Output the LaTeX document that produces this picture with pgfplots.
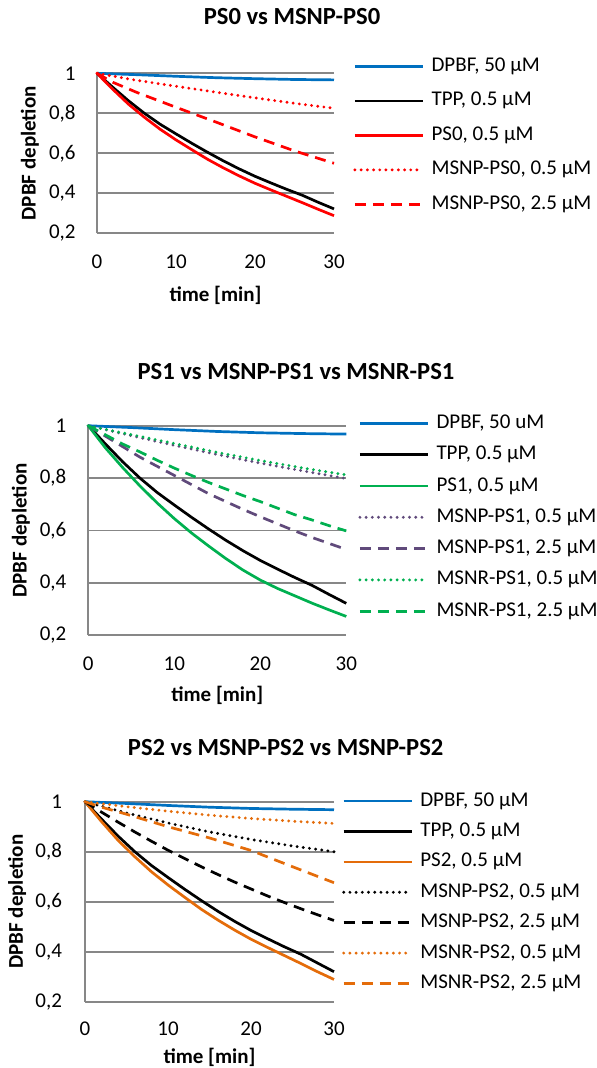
\documentclass[border=0pt]{standalone}
\usepackage{fontspec}
\setmainfont{Carlito}
\usepackage{pgfplots}
\pgfplotsset{compat=1.18}

\definecolor{xblue}{HTML}{0070C0}
\definecolor{xred}{HTML}{FF0000}
\definecolor{xgreen}{HTML}{00B050}
\definecolor{xpurple}{HTML}{604A7B}
\definecolor{xorange}{HTML}{E46C0A}
\definecolor{xgrid}{HTML}{878787}

\newcommand{\fs}{\fontsize{10.5}{12}\selectfont}
\newcommand{\ft}{\fontsize{12.3}{14}\selectfont\bfseries}

\pgfplotsset{
  panel/.style={
    scale only axis, xmin=0, xmax=30, ymin=0.2, ymax=1,
    xtick={0,10,20,30}, ytick={0.2,0.4,0.6,0.8,1},
    axis lines*=left, axis line style={xgrid, line width=0.85pt},
    major tick length=0pt,
    ymajorgrids, major grid style={xgrid, line width=0.85pt},
    /pgf/number format/.cd, use comma, fixed, precision=1, assume math mode=true, /pgfplots/.cd,
    tick label style={font=\fs},
    xticklabel style={anchor=center},
    yticklabel style={anchor=east, inner sep=0pt},
    label style={font=\fs\bfseries, anchor=center},
    title style={font=\ft, anchor=center},
    clip=false,
    legend style={draw=none, fill=none, font=\fs, anchor=north west, inner sep=0pt,
      column sep=3.5pt, nodes={inner sep=0pt, text height=7pt, text depth=2pt}, cells={anchor=west}},
    legend image code/.code={\draw[##1] (0pt,0pt) -- (34pt,0pt);},
    every axis plot/.append style={line width=1.35pt, line join=round},
  },
  sdot/.style={line cap=round, line width=1.6pt, dash pattern=on 0pt off 3.1pt},
  sdash/.style={dash pattern=on 5.5pt off 3.5pt},
}

\begin{document}
\begin{tikzpicture}
\useasboundingbox (0,0) rectangle (298pt,-534pt);

% ---- PS0
\begin{axis}[panel, at={(48.5pt,-116.65pt)}, anchor=south west,
  width=118.5pt, height=80pt,
  title={PS0 vs MSNP-PS0}, title style={at={(axis description cs:0.823,1.28)}},
  xlabel={time [min]}, xlabel style={at={(axis description cs:0.5,-0.386)}},
  ylabel={DPBF depletion}, ylabel style={at={(axis description cs:-0.283,0.5)}},
  xticklabel style={yshift=-14.2pt}, yticklabel style={xshift=-10.5pt},
  legend style={at={(axis description cs:1.08,1.102)}, row sep=8.25pt},
]
\addplot[xblue] coordinates {(0,1) (5,0.993) (10,0.985) (15,0.978) (20,0.973) (25,0.969) (30,0.967)};
\addplot[black] coordinates {(0,1) (2,0.93) (4,0.862) (6,0.8) (8,0.745) (10,0.697) (12,0.65) (14,0.605) (16,0.562) (18,0.522) (20,0.485) (22,0.452) (24,0.42) (26,0.39) (28,0.355) (30,0.322)};
\addplot[xred] coordinates {(0,1) (2,0.92) (4,0.845) (6,0.78) (8,0.72) (10,0.667) (12,0.618) (14,0.57) (16,0.527) (18,0.487) (20,0.45) (22,0.417) (24,0.385) (26,0.353) (28,0.32) (30,0.288)};
\addplot[xred, sdot] coordinates {(0,1) (2,0.986) (5,0.965) (10,0.935) (15,0.906) (20,0.877) (25,0.85) (30,0.825)};
\addplot[xred, sdash] coordinates {(0,1) (2,0.955) (5,0.905) (10,0.83) (15,0.757) (20,0.682) (25,0.612) (30,0.55)};
\legend{{DPBF, 50 µM},{TPP, 0.5 µM},{PS0, 0.5 µM},{MSNP-PS0, 0.5 µM},{MSNP-PS0, 2.5 µM}}
\end{axis}

% ---- PS1
\begin{axis}[panel, at={(44.15pt,-317.5pt)}, anchor=south west,
  width=129pt, height=104.65pt,
  title={PS1 vs MSNP-PS1 vs MSNR-PS1}, title style={at={(axis description cs:0.805,1.204)}},
  xlabel={time [min]}, xlabel style={at={(axis description cs:0.5,-0.287)}},
  ylabel={DPBF depletion}, ylabel style={at={(axis description cs:-0.261,0.5)}},
  xticklabel style={yshift=-14.5pt}, yticklabel style={xshift=-10.8pt},
  legend style={at={(axis description cs:1.045,1.056)}, row sep=6.65pt},
]
\addplot[xblue] coordinates {(0,1) (5,0.993) (10,0.985) (15,0.978) (20,0.973) (25,0.97) (30,0.968)};
\addplot[black] coordinates {(0,1) (2,0.93) (4,0.862) (6,0.8) (8,0.745) (10,0.697) (12,0.65) (14,0.605) (16,0.562) (18,0.522) (20,0.485) (22,0.452) (24,0.42) (26,0.39) (28,0.355) (30,0.321)};
\addplot[xgreen] coordinates {(0,1) (2,0.915) (4,0.84) (6,0.77) (8,0.705) (10,0.645) (12,0.59) (14,0.54) (16,0.492) (18,0.448) (20,0.41) (22,0.378) (24,0.35) (26,0.322) (28,0.296) (30,0.271)};
\addplot[xpurple, sdot] coordinates {(0,1) (2,0.985) (5,0.962) (10,0.925) (15,0.89) (20,0.857) (25,0.827) (30,0.798)};
\addplot[xpurple, sdash] coordinates {(0,1) (2,0.96) (4,0.92) (6,0.88) (8,0.845) (10,0.81) (12,0.775) (14,0.74) (16,0.71) (18,0.68) (20,0.652) (22,0.625) (24,0.598) (26,0.573) (28,0.55) (30,0.527)};
\addplot[xgreen, sdot] coordinates {(0,1) (2,0.986) (5,0.966) (10,0.932) (15,0.898) (20,0.867) (25,0.838) (30,0.812)};
\addplot[xgreen, sdash] coordinates {(0,1) (2,0.965) (4,0.93) (6,0.9) (8,0.868) (10,0.838) (12,0.81) (14,0.783) (16,0.758) (18,0.733) (20,0.71) (22,0.685) (24,0.66) (26,0.64) (28,0.618) (30,0.598)};
\legend{{DPBF, 50 uM},{TPP, 0.5 µM},{PS1, 0.5 µM},{MSNP-PS1, 0.5 µM},{MSNP-PS1, 2.5 µM},{MSNR-PS1, 0.5 µM},{MSNR-PS1, 2.5 µM}}
\end{axis}

% ---- PS2
\begin{axis}[panel, at={(42.5pt,-500.85pt)}, anchor=south west,
  width=124.5pt, height=100pt,
  title={PS2 vs MSNP-PS2 vs MSNP-PS2}, title style={at={(axis description cs:0.806,1.2085)}},
  xlabel={time [min]}, xlabel style={at={(axis description cs:0.5,-0.28)}},
  ylabel={DPBF depletion}, ylabel style={at={(axis description cs:-0.273,0.5)}},
  xticklabel style={yshift=-13.65pt}, yticklabel style={xshift=-11.3pt},
  legend style={at={(axis description cs:1.031,1.05)}, row sep=6.2pt},
]
\addplot[xblue] coordinates {(0,1) (5,0.993) (10,0.985) (15,0.978) (20,0.973) (25,0.97) (30,0.968)};
\addplot[black] coordinates {(0,1) (2,0.93) (4,0.862) (6,0.8) (8,0.745) (10,0.697) (12,0.65) (14,0.605) (16,0.562) (18,0.522) (20,0.485) (22,0.452) (24,0.42) (26,0.39) (28,0.355) (30,0.32)};
\addplot[xorange] coordinates {(0,1) (2,0.92) (4,0.845) (6,0.78) (8,0.72) (10,0.667) (12,0.618) (14,0.57) (16,0.527) (18,0.487) (20,0.45) (22,0.417) (24,0.385) (26,0.353) (28,0.32) (30,0.289)};
\addplot[black, sdot] coordinates {(0,1) (2,0.982) (5,0.955) (10,0.915) (15,0.879) (20,0.849) (25,0.823) (30,0.8)};
\addplot[black, sdash] coordinates {(0,1) (2,0.958) (4,0.918) (6,0.879) (8,0.842) (10,0.806) (12,0.773) (14,0.74) (16,0.709) (18,0.679) (20,0.651) (22,0.623) (24,0.597) (26,0.572) (28,0.548) (30,0.525)};
\addplot[xorange, sdot] coordinates {(0,1) (2,0.992) (5,0.98) (10,0.962) (15,0.946) (20,0.933) (25,0.922) (30,0.913)};
\addplot[xorange, sdash] coordinates {(0,1) (2,0.978) (5,0.95) (10,0.9) (15,0.855) (20,0.805) (25,0.74) (30,0.676)};
\legend{{DPBF, 50 µM},{TPP, 0.5 µM},{PS2, 0.5 µM},{MSNP-PS2, 0.5 µM},{MSNP-PS2, 2.5 µM},{MSNR-PS2, 0.5 µM},{MSNR-PS2, 2.5 µM}}
\end{axis}
\end{tikzpicture}
\end{document}
